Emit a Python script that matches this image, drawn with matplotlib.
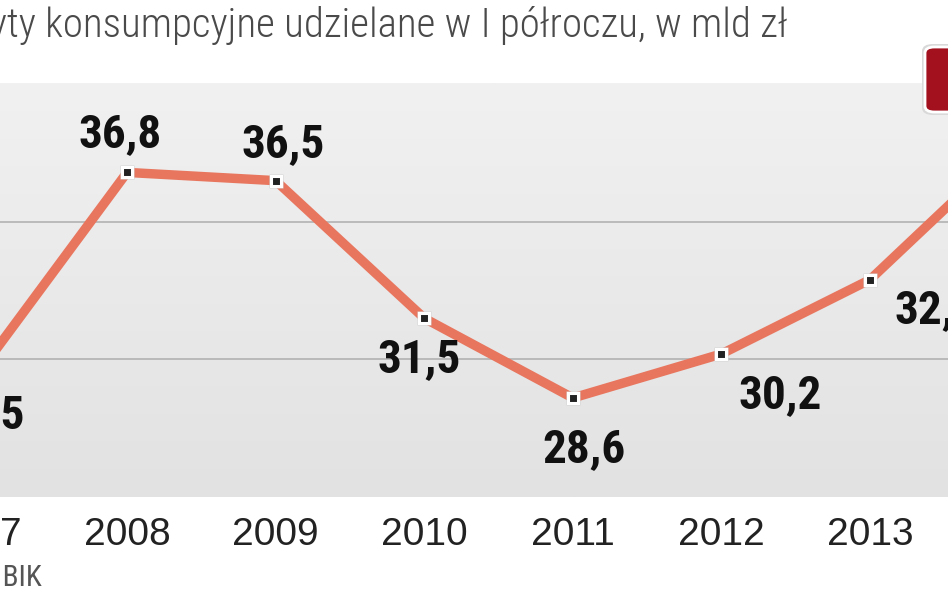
import numpy as np
import matplotlib
matplotlib.use("Agg")
import matplotlib.pyplot as plt
from matplotlib.colors import LinearSegmentedColormap
from matplotlib.patches import FancyBboxPatch

# data
years = ["2007", "2008", "2009", "2010", "2011", "2012", "2013", "2014"]
values = [29.5, 36.8, 36.5, 31.5, 28.6, 30.2, 32.9, 38.0]
labels = ["29,5", "36,8", "36,5", "31,5", "28,6", "30,2", "32,9", "38,0"]

# label offsets from the point, in pixels (dx right, dy down to text centre)
label_off = [(5, 38), (-7, -42), (8, -41), (-5, 37), (11, 47), (59, 37), (66, 26), (0, -42)]

COND = ["Roboto Condensed", "DejaVu Sans"]
SANS = ["Liberation Sans", "DejaVu Sans"]

W, H = 948, 593
fig = plt.figure(figsize=(W / 100, H / 100), dpi=100)
ax = fig.add_axes([0, (H - 497) / H, 1, (497 - 83) / H])

x = np.arange(len(years))
x0, x1, y0, y1 = 0.145, 6.525, 25.0, 40.05

# background gradient
cmap = LinearSegmentedColormap.from_list("bg", ["#f1f1f1", "#e2e2e2"])
ax.imshow(np.linspace(0, 1, 256).reshape(-1, 1), cmap=cmap, aspect="auto",
          extent=[x0, x1, y0, y1], zorder=0)

for g in [30, 35]:
    ax.axhline(g, color="#b2b2b2", lw=1.2, zorder=1)

ax.plot(x, values, color="#e8765e", lw=6.8, solid_joinstyle="miter", zorder=2)
ax.plot(x, values, ls="none", marker="s", ms=10, mfc="#d5d5d5", mec="none", zorder=3)
ax.plot(x, values, ls="none", marker="s", ms=6.6, mfc="#222222", mec="white", mew=2.2, zorder=4)

for xi, v, lab, (dx, dy) in zip(x, values, labels, label_off):
    ax.annotate(lab, (xi, v), xytext=(dx * 0.72, -(dy + 17) * 0.72), textcoords="offset points",
                ha="center", va="baseline", fontsize=34, fontweight="bold",
                family=COND, color="#111111", zorder=5, annotation_clip=False)

# year labels under the plot area (drawn as text so the cut-off 2007 still shows)
for xi, yr in zip(x, years):
    ax.annotate(yr, (xi, y0), xytext=(0, -48 * 0.72), textcoords="offset points",
                ha="center", va="baseline", fontsize=28, family=SANS, color="#222222",
                annotation_clip=False)

for s in ax.spines.values():
    s.set_visible(False)
ax.set_yticks([])
ax.set_xticks([])
ax.set_xlim(x0, x1)
ax.set_ylim(y0, y1)

fig.text(787 / W, 1 - 37 / H, "Kredyty konsumpcyjne udzielane w I półroczu, w mld zł",
         ha="right", va="baseline", fontsize=29.5, family=COND, fontweight="light", color="#4a4a4a")
fig.text(42 / W, 1 - 586 / H, "Źródło: BIK", ha="right", va="baseline",
         fontsize=21, family=COND, color="#555555")

# red tag in the corner
fig.patches.append(FancyBboxPatch((922 / W, 1 - 115 / H), 60 / W, 71 / H,
                                  boxstyle="round,pad=0,rounding_size=0.012",
                                  transform=fig.transFigure, fc="#d9d9d9", ec="none", zorder=5))
fig.patches.append(FancyBboxPatch((925 / W, 1 - 112 / H), 60 / W, 65 / H,
                                  boxstyle="round,pad=0,rounding_size=0.01",
                                  transform=fig.transFigure, fc="#a3111f", ec="white", lw=2, zorder=6))

fig.savefig("out.png", dpi=100)
